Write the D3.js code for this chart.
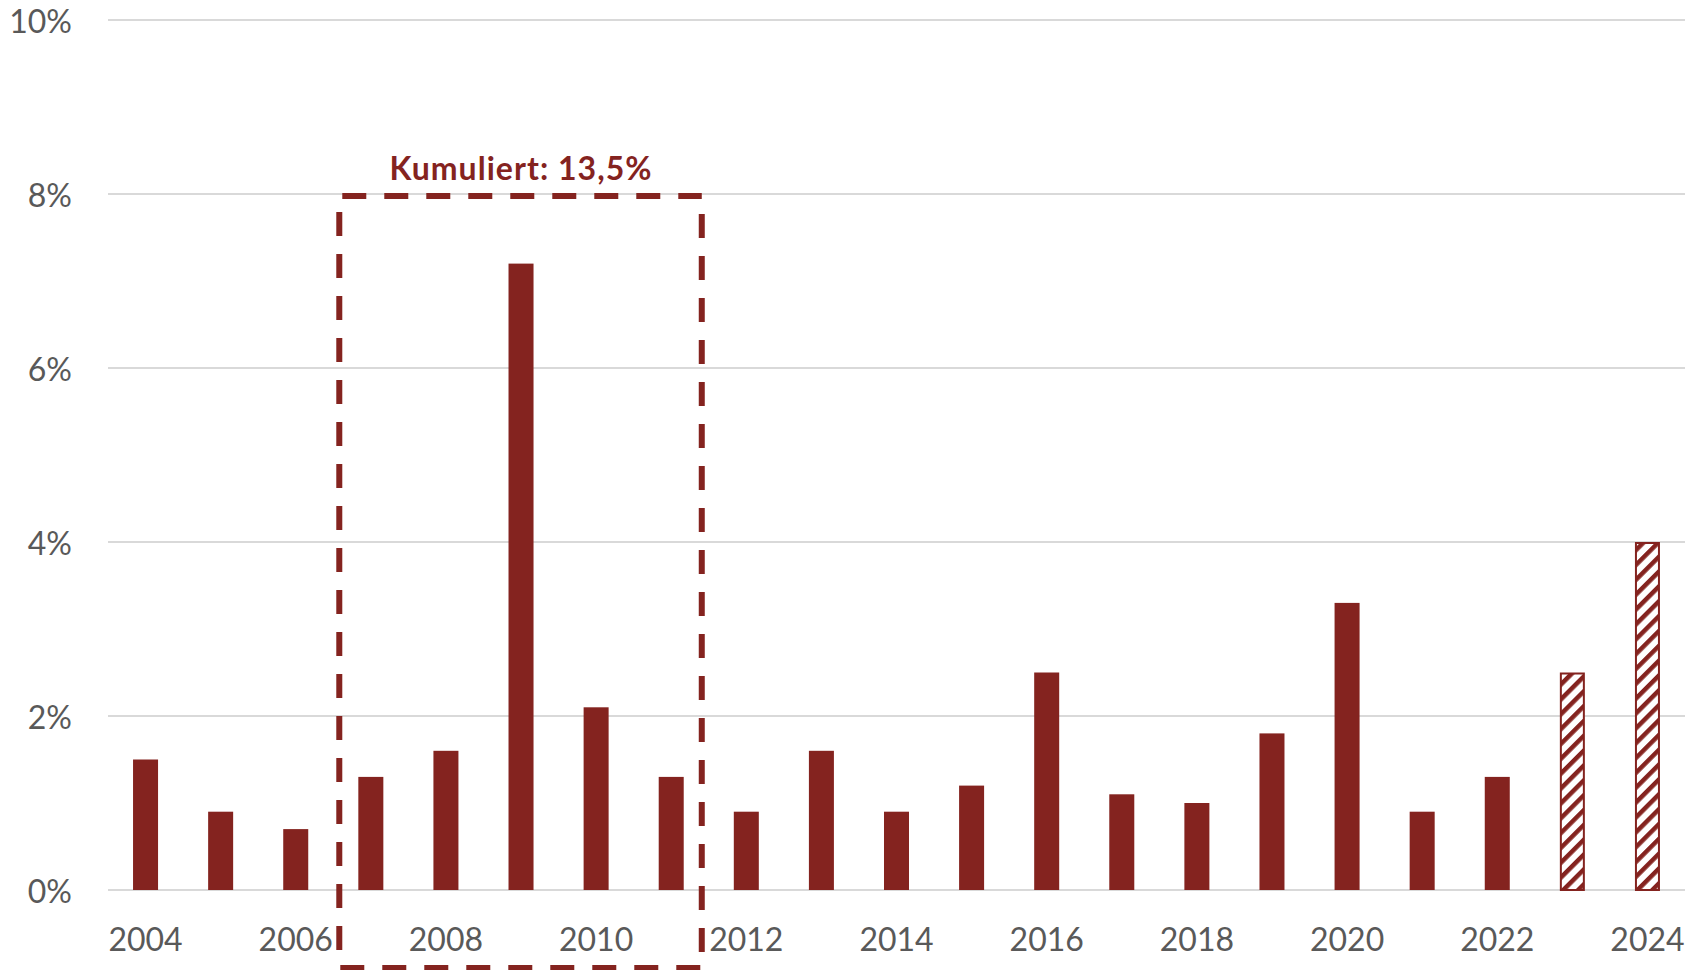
<!DOCTYPE html>
<html>
<head>
<meta charset="utf-8">
<script src="https://cdn.jsdelivr.net/npm/d3@7"></script>
<style>
  html, body { margin: 0; padding: 0; background: #ffffff; }
  svg { display: block; }
</style>
</head>
<body>
<svg id="chart" width="1703" height="970"></svg>
<script>
// ---- data ----
const years = ["2004","2005","2006","2007","2008","2009","2010","2011","2012","2013","2014",
               "2015","2016","2017","2018","2019","2020","2021","2022","2023","2024"];
const values = [1.5, 0.9, 0.7, 1.3, 1.6, 7.2, 2.1, 1.3, 0.9, 1.6, 0.9,
                1.2, 2.5, 1.1, 1.0, 1.8, 3.3, 0.9, 1.3, 2.5, 4.0];
const forecastYears = ["2023","2024"];
const yTicks = [0, 2, 4, 6, 8, 10];
const xTickLabels = ["2004","2006","2008","2010","2012","2014","2016","2018","2020","2022","2024"];
const boxYears = ["2007","2011"];
const boxTop = 8;
const boxLabel = "Kumuliert: 13,5%";

const RED = "#84231f";
const GRID = "#d9d9d9";
const TXT = "#595959";
const FONT = "Lato, 'Open Sans', sans-serif";

const svg = d3.select("#chart");
const left = 108, right = 1685, y0px = 890, y10px = 20;

const x = d3.scaleBand().domain(years).range([left, right]).paddingInner(0.667).paddingOuter(0.3335);
const y = d3.scaleLinear().domain([0, 10]).range([y0px, y10px]);

// pattern
const defs = svg.append("defs");
const pat = defs.append("pattern")
  .attr("id", "hatch").attr("patternUnits", "userSpaceOnUse")
  .attr("width", 10.5).attr("height", 10.5)
  .attr("patternTransform", "rotate(45)");
pat.append("rect").attr("width", 10.5).attr("height", 10.5).attr("fill", "#fff");
pat.append("rect").attr("x", 0).attr("y", 0).attr("width", 4.5).attr("height", 10.5).attr("fill", RED);

// gridlines
svg.append("g").selectAll("line").data(yTicks).join("line")
  .attr("x1", left).attr("x2", right)
  .attr("y1", d => y(d)).attr("y2", d => y(d))
  .attr("stroke", GRID).attr("stroke-width", 2);

// y axis labels
svg.append("g").selectAll("text").data(yTicks).join("text")
  .attr("x", 72).attr("y", d => y(d))
  .attr("text-anchor", "end").attr("dominant-baseline", "central")
  .attr("font-family", FONT).attr("font-size", 32).attr("fill", TXT)
  .text(d => d + "%");

// x axis
const xAxis = d3.axisBottom(x).tickValues(xTickLabels).tickSize(0).tickPadding(0);
const gx = svg.append("g").attr("transform", `translate(0, ${y0px})`).call(xAxis);
gx.select(".domain").remove();
gx.selectAll("text")
  .attr("y", 61).attr("dy", 0)
  .attr("font-family", FONT).attr("font-size", 32).attr("fill", TXT);

// bars
const data = years.map((yr, i) => ({ yr, v: values[i], fc: forecastYears.includes(yr) }));
svg.append("g").selectAll("rect").data(data.filter(d => !d.fc)).join("rect")
  .attr("x", d => x(d.yr)).attr("width", x.bandwidth())
  .attr("y", d => y(d.v)).attr("height", d => y(0) - y(d.v))
  .attr("fill", RED);
svg.append("g").selectAll("rect").data(data.filter(d => d.fc)).join("rect")
  .attr("x", d => x(d.yr) + 1).attr("width", x.bandwidth() - 2)
  .attr("y", d => y(d.v) + 1).attr("height", d => y(0) - y(d.v) - 1)
  .attr("fill", "url(#hatch)").attr("stroke", RED).attr("stroke-width", 2);

// dashed box
const inset = 6;
const bx1 = x(boxYears[0]) - x.step() * x.paddingInner() / 2 + inset;
const bx2 = x(boxYears[1]) + x.bandwidth() + x.step() * x.paddingInner() / 2 - inset - 1;
const by1 = y(boxTop) + 2;
const by2 = 968;
const dash = "24 18";
const box = svg.append("g").attr("stroke", RED).attr("stroke-width", 6).attr("fill", "none")
  .attr("stroke-dasharray", dash);
box.append("line").attr("x1", bx1 + 3).attr("x2", bx2).attr("y1", by1).attr("y2", by1);
box.append("line").attr("x1", bx1 + 1).attr("x2", bx2).attr("y1", by2).attr("y2", by2);
box.append("line").attr("x1", bx1).attr("x2", bx1).attr("y1", by1 + 16).attr("y2", by2 - 3);
box.append("line").attr("x1", bx2).attr("x2", bx2).attr("y1", by1 + 18).attr("y2", by2 - 3);

svg.append("text")
  .attr("x", (bx1 + bx2) / 2).attr("y", by1 - 16)
  .attr("text-anchor", "middle")
  .attr("font-family", FONT).attr("font-weight", "bold").attr("font-size", 32)
  .attr("textLength", 262).attr("lengthAdjust", "spacing")
  .attr("fill", RED)
  .text(boxLabel);
</script>
</body>
</html>
